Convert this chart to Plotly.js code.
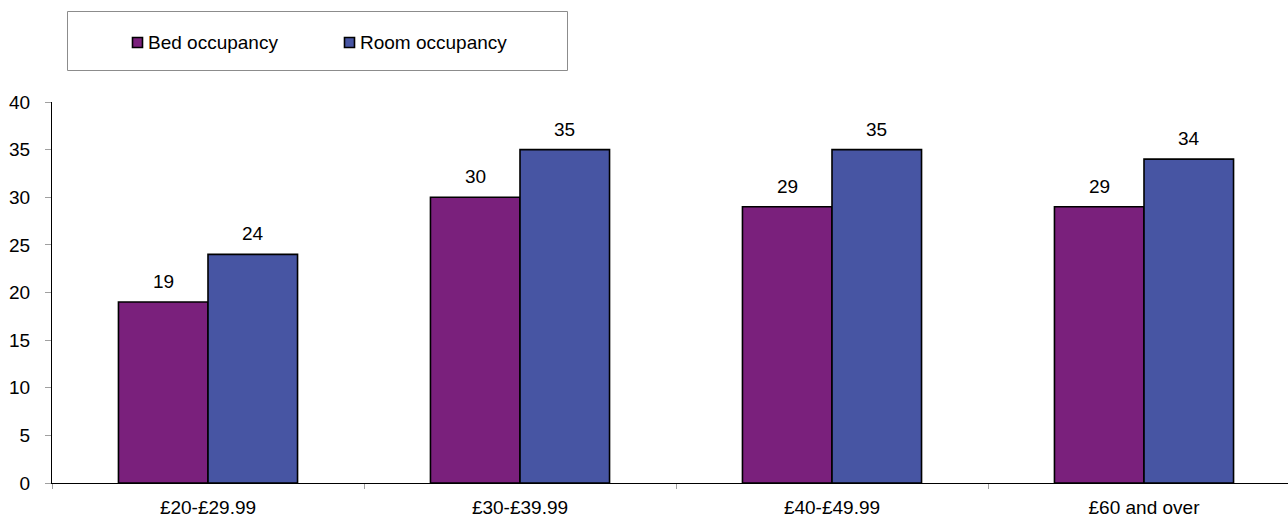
<!DOCTYPE html>
<html>
<head>
<meta charset="utf-8">
<script src="https://cdn.plot.ly/plotly-3.0.1.min.js"></script>
<style>
  html, body { margin: 0; padding: 0; background: #ffffff; }
  #chart { width: 1288px; height: 517px; }
</style>
</head>
<body>
<div id="chart"></div>
<script>
// Price bands and occupancy percentages
const categories = ['£20-£29.99', '£30-£39.99', '£40-£49.99', '£60 and over'];
const seriesNames = ['Bed occupancy', 'Room occupancy'];
const bedOccupancy = [19, 30, 29, 29];
const roomOccupancy = [24, 35, 35, 34];
const seriesValues = [bedOccupancy, roomOccupancy];
const seriesColors = ['#7a207c', '#4755a3'];

const FONT = 'Liberation Sans, Arial, Helvetica, sans-serif';
const TEXT_SIZE = 19;

// Half the width of one bar in category units (two bars per group)
const bargap = 0.426;
const barHalf = (1 - bargap) / 4;

const traces = seriesValues.map((vals, s) => ({
  type: 'bar',
  name: seriesNames[s],
  x: categories,
  y: vals,
  marker: { color: seriesColors[s], line: { color: '#000000', width: 1.6 } },
  hoverinfo: 'skip',
  showlegend: false
}));

// Value labels above every bar
const annotations = [];
seriesValues.forEach((vals, s) => {
  vals.forEach((v, i) => {
    annotations.push({
      xref: 'x', yref: 'y',
      x: i + (s === 0 ? -barHalf : barHalf),
      y: v,
      text: String(v),
      showarrow: false,
      xanchor: 'center', yanchor: 'bottom',
      yshift: 8,
      font: { family: FONT, size: TEXT_SIZE, color: '#000000' }
    });
  });
});

// Legend: framed box with swatches and series names
const toPx = {
  x: px => (px - 52) / 1236,
  y: py => (483 - py) / 381
};
const shapes = [{
  type: 'rect', xref: 'paper', yref: 'paper',
  x0: toPx.x(67.5), x1: toPx.x(567.5), y0: toPx.y(70.5), y1: toPx.y(11.5),
  line: { color: '#8c8c8c', width: 1 }, fillcolor: 'rgba(0,0,0,0)'
}];
const legendItems = [
  { swatch: 132, text: 146 },
  { swatch: 344, text: 358 }
];
legendItems.forEach((it, s) => {
  shapes.push({
    type: 'rect', xref: 'paper', yref: 'paper',
    x0: toPx.x(it.swatch + 0.5), x1: toPx.x(it.swatch + 10.5),
    y0: toPx.y(47.5), y1: toPx.y(37.5),
    line: { color: '#000000', width: 1.6 }, fillcolor: seriesColors[s]
  });
  annotations.push({
    xref: 'paper', yref: 'paper',
    x: toPx.x(it.text), y: toPx.y(42.5),
    xanchor: 'left', yanchor: 'middle',
    text: seriesNames[s], showarrow: false,
    font: { family: FONT, size: TEXT_SIZE, color: '#000000' }
  });
});

const layout = {
  width: 1288,
  height: 517,
  margin: { l: 52, r: 0, t: 102, b: 34, pad: 0 },
  paper_bgcolor: '#ffffff',
  plot_bgcolor: '#ffffff',
  barmode: 'group',
  bargap: bargap,
  bargroupgap: 0,
  showlegend: false,
  font: { family: FONT, size: TEXT_SIZE, color: '#000000' },
  xaxis: {
    type: 'category',
    range: [-0.5, 3.5 - 12 / 312],
    showline: true, linecolor: '#000000', linewidth: 1,
    ticks: 'outside', tickson: 'boundaries', ticklen: 5, tickcolor: '#a0a0a0', tickwidth: 1,
    ticklabelstandoff: 7,
    showgrid: false, zeroline: false,
    tickfont: { family: FONT, size: TEXT_SIZE, color: '#000000' }
  },
  yaxis: {
    range: [0, 40],
    tickvals: [0, 5, 10, 15, 20, 25, 30, 35, 40],
    showline: true, linecolor: '#000000', linewidth: 1,
    ticks: 'outside', ticklen: 6, tickcolor: '#a0a0a0', tickwidth: 1,
    ticklabelstandoff: 11,
    showgrid: false, zeroline: false,
    tickfont: { family: FONT, size: TEXT_SIZE, color: '#000000' }
  },
  annotations: annotations,
  shapes: shapes
};

Plotly.newPlot('chart', traces, layout, { displayModeBar: false, staticPlot: true });
</script>
</body>
</html>
